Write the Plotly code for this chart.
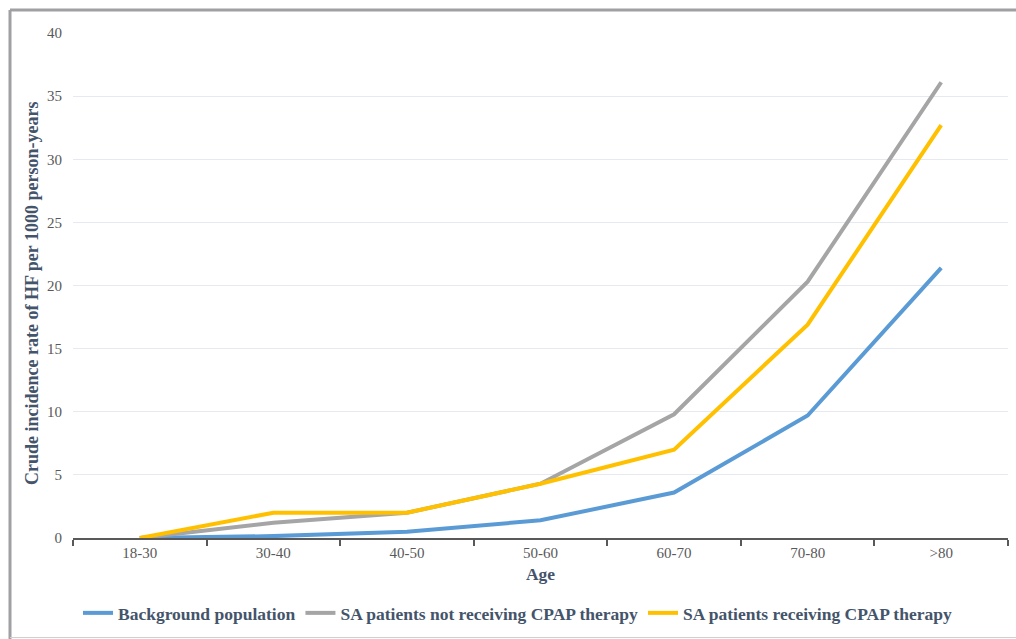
import plotly.graph_objects as go

ages = ["18-30", "30-40", "40-50", "50-60", "60-70", "70-80", ">80"]
background = [0.0, 0.15, 0.5, 1.4, 3.6, 9.7, 21.4]
sa_no_cpap = [0.0, 1.2, 2.0, 4.3, 9.8, 20.3, 36.1]
sa_cpap = [0.0, 2.0, 2.0, 4.3, 7.0, 16.9, 32.7]
y_ticks = [0, 5, 10, 15, 20, 25, 30, 35, 40]

series = [
    ("Background population", background, "#5B9BD5"),
    ("SA patients not receiving CPAP therapy", sa_no_cpap, "#A5A5A5"),
    ("SA patients receiving CPAP therapy", sa_cpap, "#FFC000"),
]

FONT = "Liberation Serif"

fig = go.Figure()
for name, vals, col in series:
    fig.add_trace(go.Scatter(x=ages, y=vals, name=name, mode="lines",
                             line=dict(color=col, width=4)))

W, H = 1016, 639
L, R, T, B = 73, 8, 33, 101
pw, ph = W - L - R, H - T - B

def px(x):
    return (x - L) / pw

def py(y):
    return (H - B - y) / ph

fig.update_layout(
    width=W, height=H,
    margin=dict(l=L, r=R, t=T, b=B, autoexpand=False),
    paper_bgcolor="white", plot_bgcolor="white",
    font=dict(family=FONT, color="#595959", size=15),
    showlegend=True,
    legend=dict(orientation="h", x=px(78), xanchor="left", y=py(613), yanchor="middle",
                font=dict(size=17.5, color="#44546A", family=FONT, weight="bold"),
                itemwidth=30, bgcolor="rgba(0,0,0,0)"),
    xaxis=dict(
        type="category", range=[-0.5, 6.5], automargin=False,
        showgrid=False, showline=True, linecolor="#595959", linewidth=2,
        ticks="outside", ticklen=6, tickcolor="#595959", tickwidth=1.5,
        tickson="boundaries",
        tickfont=dict(size=15, color="#595959", family=FONT),
        title=dict(text="Age", font=dict(size=17.5, color="#44546A", family=FONT, weight="bold"), standoff=8),
    ),
    yaxis=dict(
        range=[0, 40], tickvals=y_ticks, showgrid=True, gridcolor="#E6E9F0", gridwidth=1,
        automargin=False,
        zeroline=False, showline=False, ticks="", ticklabelstandoff=10,
        tickfont=dict(size=15, color="#595959", family=FONT),
    ),
)

fig.add_annotation(text="Crude incidence rate of HF per 1000 person-years",
                   xref="paper", yref="paper", x=px(32), y=py(294),
                   xanchor="center", yanchor="middle", textangle=-90, showarrow=False,
                   font=dict(size=18, color="#44546A", family=FONT, weight="bold"))

# outer frame
fig.add_shape(type="line", xref="paper", yref="paper", x0=px(10), x1=px(10), y0=py(10), y1=py(639),
              line=dict(color="#A0A0A4", width=3))
fig.add_shape(type="line", xref="paper", yref="paper", x0=px(10), x1=px(1016), y0=py(10), y1=py(10),
              line=dict(color="#A0A0A4", width=3))
fig.add_shape(type="line", xref="paper", yref="paper", x0=px(10), x1=px(1016), y0=py(637.5), y1=py(637.5),
              line=dict(color="#D0D0D0", width=1))

fig.write_html("out.html", config={"displayModeBar": False},
               post_script="document.body.style.margin='0';document.body.style.padding='0';")
